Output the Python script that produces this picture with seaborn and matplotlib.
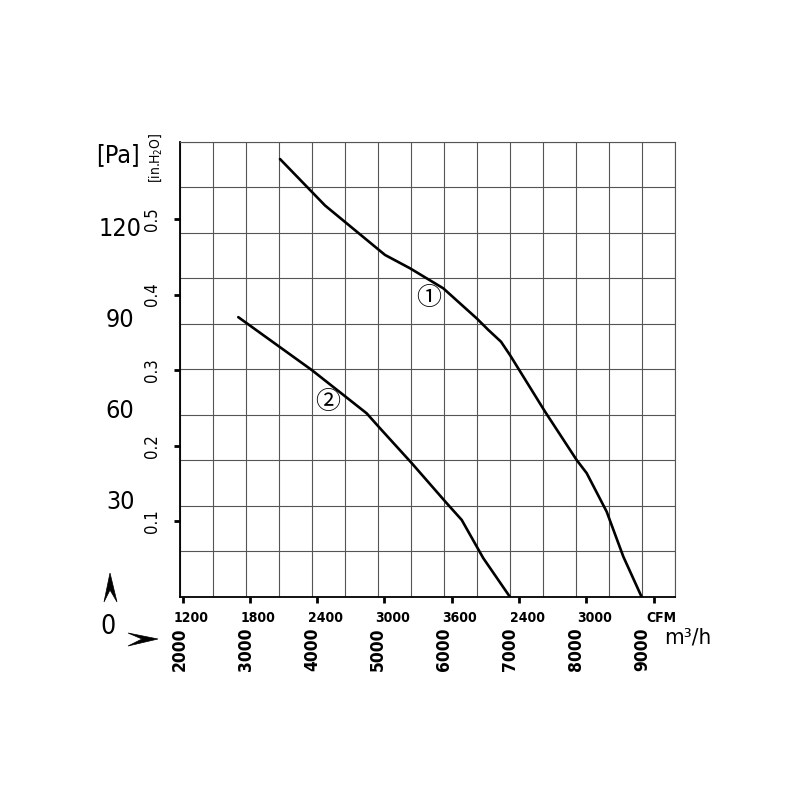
import numpy as np
import pandas as pd
import matplotlib
matplotlib.use("Agg")
import matplotlib.pyplot as plt
import matplotlib.transforms as mtransforms
from matplotlib.patches import Polygon
from matplotlib.ticker import MultipleLocator
import seaborn as sns

# fan curves, airflow in m3/h, static pressure in Pa
curve1_flow = [3515, 3970, 4197, 4526, 5106, 5485, 5989, 6495, 6671, 6864,
               7000, 7530, 8011, 8162, 8465, 8717, 8995]
curve1_pa = [144.3, 134.1, 129.0, 123.1, 112.7, 108.3, 101.7, 91.8, 88.0, 84.1,
             79.7, 61.1, 45.1, 40.8, 28.1, 13.3, 0.0]
curve2_flow = [2883, 3995, 4474, 4829, 5030, 5511, 6041, 6268, 6595, 7000]
curve2_pa = [92.2, 74.8, 66.6, 60.5, 55.6, 44.1, 30.9, 25.4, 12.8, 0.0]

curve_labels = ["\u2460", "\u2461"]
label_flow = [5773, 4242]
label_pa = [98.5, 64.0]

# scales
pa_ticks = [30, 60, 90, 120]
inh2o_ticks = [0.1, 0.2, 0.3, 0.4, 0.5]
cfm_ticks = [1200, 1800, 2400, 3000, 3600, 4200, 4800, 5400]
cfm_labels = ["1200", "1800", "2400", "3000", "3600", "2400", "3000", "CFM"]
m3h_ticks = [2000, 3000, 4000, 5000, 6000, 7000, 8000, 9000]

PA_PER_INH2O = 249.09
M3H_PER_CFM = 1.699

sns.set_theme(style="white")
plt.rcParams["font.family"] = ["Liberation Sans Narrow", "DejaVu Sans"]
plt.rcParams["font.stretch"] = "condensed"
plt.rcParams["text.color"] = "black"
plt.rcParams["xtick.color"] = "black"
plt.rcParams["ytick.color"] = "black"

df = pd.concat([
    pd.DataFrame({"flow": curve1_flow, "pa": curve1_pa, "curve": "1"}),
    pd.DataFrame({"flow": curve2_flow, "pa": curve2_pa, "curve": "2"}),
])

fig = plt.figure(figsize=(8, 8), dpi=100)
ax = fig.add_axes([0.225, 0.25375, 0.61875, 0.5691])

sns.lineplot(data=df, x="flow", y="pa", units="curve", estimator=None,
             sort=False, color="black", lw=1.9, legend=False, ax=ax)

ax.set_xlim(2000, 9500)
ax.set_ylim(0, 150)
ax.set_xlabel("")
ax.set_ylabel("")

# grid on minor ticks
grid_col = "#555555"
ax.xaxis.set_minor_locator(MultipleLocator(500))
ax.yaxis.set_minor_locator(MultipleLocator(15))
ax.grid(which="minor", color=grid_col, lw=0.8)
ax.grid(which="major", visible=False)
ax.tick_params(which="minor", length=0)

for side in ["top", "right"]:
    ax.spines[side].set_color(grid_col)
    ax.spines[side].set_linewidth(0.8)
for side in ["left", "bottom"]:
    ax.spines[side].set_color("black")
    ax.spines[side].set_linewidth(1.3)

# in.H2O ticks on left
ax.set_yticks([v * PA_PER_INH2O for v in inh2o_ticks])
ax.set_yticklabels([f"{v:.1f}" for v in inh2o_ticks], rotation=90,
                   va="center", fontsize=12)
ax.tick_params(axis="y", which="major", direction="out", length=4, width=2,
               color="black", pad=10, left=True)

# CFM ticks on bottom
ax.set_xticks([v * M3H_PER_CFM for v in cfm_ticks])
ax.set_xticklabels(cfm_labels, fontsize=10, fontweight="bold")
ax.tick_params(axis="x", which="major", direction="out", length=4, width=2,
               color="black", pad=6, bottom=True)
shift = mtransforms.ScaledTranslation(6 / 72, 0, fig.dpi_scale_trans)
for lab in ax.get_xticklabels():
    lab.set_transform(lab.get_transform() + shift)

# Pa labels
ytrans = mtransforms.blended_transform_factory(ax.transAxes, ax.transData)
for v in pa_ticks:
    ax.annotate(str(v), xy=(-0.121, v), xycoords=ytrans, xytext=(0, 3),
                textcoords="offset points", ha="center", va="center",
                fontsize=18, annotation_clip=False)
ax.text(-0.125, 0.971, "[Pa]", transform=ax.transAxes, ha="center",
        va="center", fontsize=18)
ax.text(-0.05, 0.964, "[in.H$_2$O]", transform=ax.transAxes, rotation=90,
        ha="center", va="center", fontsize=10)
ax.text(-0.146, -0.065, "0", transform=ax.transAxes, ha="center",
        va="center", fontsize=19)

# m3/h labels
xtrans = mtransforms.blended_transform_factory(ax.transData, ax.transAxes)
for v in m3h_ticks:
    ax.text(v, -0.066, str(v), transform=xtrans, rotation=90, ha="center",
            va="top", fontsize=12.5, fontweight="bold")
ax.text(0.978, -0.09, "m\u00b3/h", transform=ax.transAxes, ha="left",
        va="center", fontsize=16)

# curve numbers
for lab, fx, fy in zip(curve_labels, label_flow, label_pa):
    ax.text(fx, fy, lab, ha="center", va="center", fontsize=18,
            family=["DejaVu Serif", "Noto Sans CJK SC", "DejaVu Sans"])

# axis direction arrows
def px(x, y):
    return (x / 800, 1 - y / 800)

up = [px(110, 573), px(117, 602), px(110, 590), px(104, 602)]
right = [px(158, 639), px(128, 646), px(142, 639), px(128, 633)]
for pts in (up, right):
    fig.add_artist(Polygon(pts, closed=True, facecolor="black",
                           edgecolor="black", lw=0.5,
                           transform=fig.transFigure))

fig.savefig("out.png", dpi=100, facecolor="white")
